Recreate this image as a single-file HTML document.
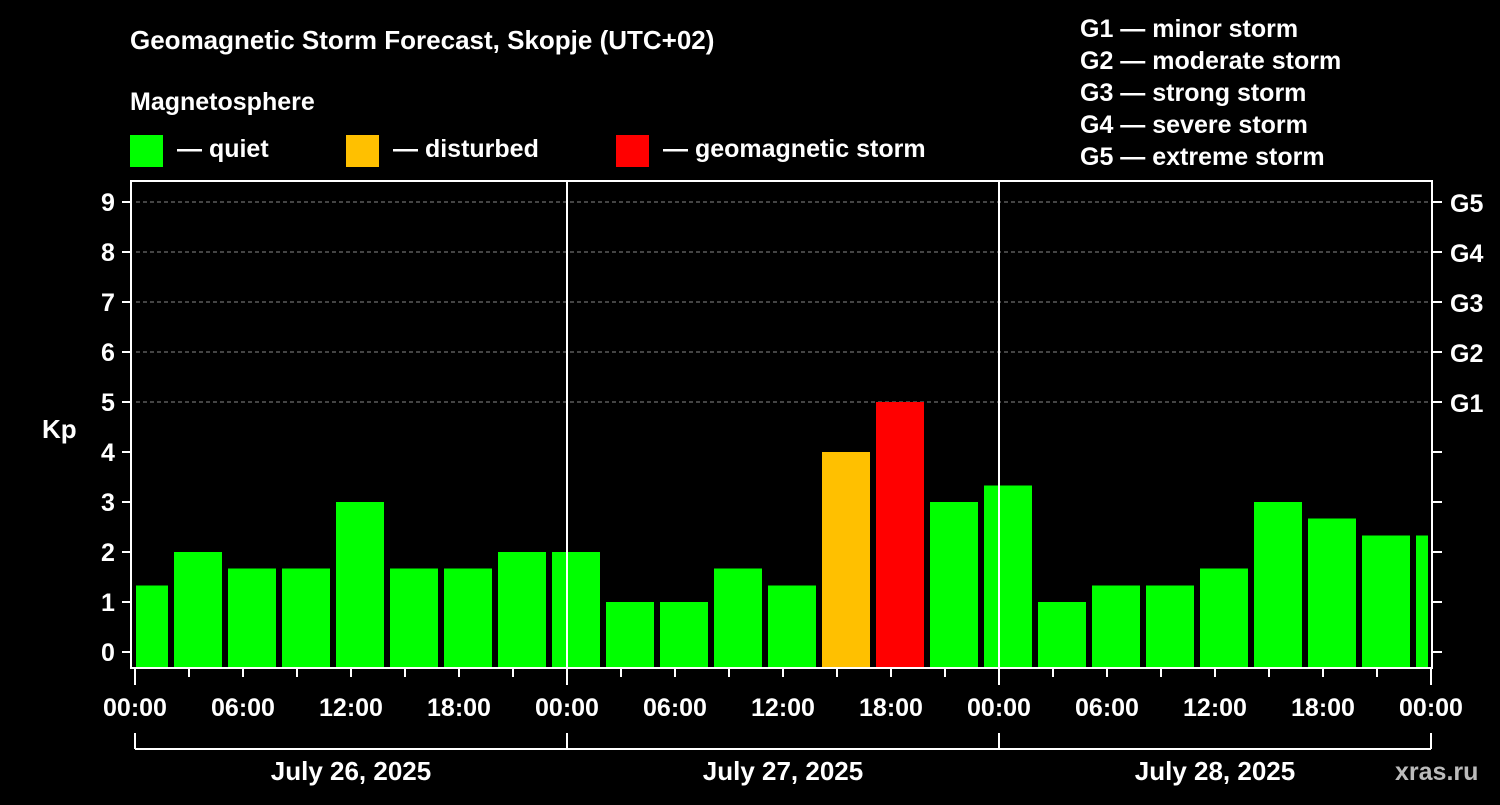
<!DOCTYPE html>
<html><head><meta charset="utf-8"><style>
body{margin:0;background:#000;}
svg text{font-family:"Liberation Sans",Arial,sans-serif;font-weight:bold;fill:#fff;}
</style></head><body>
<svg width="1500" height="800" xmlns="http://www.w3.org/2000/svg">
<rect width="1500" height="800" fill="#000"/>
<text x="130" y="49" font-size="26">Geomagnetic Storm Forecast, Skopje (UTC+02)</text>
<text x="130" y="110" font-size="25">Magnetosphere</text>
<g><rect x="130" y="135" width="33" height="32" fill="#00ff00"/><text x="177" y="157" font-size="25">— quiet</text></g>
<g><rect x="346" y="135" width="33" height="32" fill="#ffc000"/><text x="393" y="157" font-size="25">— disturbed</text></g>
<g><rect x="616" y="135" width="33" height="32" fill="#ff0000"/><text x="663" y="157" font-size="25">— geomagnetic storm</text></g>
<g font-size="25">
<text x="1080" y="37">G1 — minor storm</text>
<text x="1080" y="69">G2 — moderate storm</text>
<text x="1080" y="101">G3 — strong storm</text>
<text x="1080" y="133">G4 — severe storm</text>
<text x="1080" y="165">G5 — extreme storm</text>
</g>
<text x="42" y="438" font-size="26">Kp</text>
<text x="1395" y="780" font-size="25" fill="#ccc" style="fill:#bbb">xras.ru</text>
<defs><clipPath id="pc"><rect x="136" y="182" width="1292" height="486"/></clipPath></defs>
<g id="grid"></g>
<g id="bars" clip-path="url(#pc)"></g>
<g id="axes"></g>
</svg>
<script>
const kpValues=[1.33,2,1.67,1.67,3,1.67,1.67,2,2,1,1,1.67,1.33,4,5,3,3.33,1,1.33,1.33,1.67,3,2.67,2.33,2.33];
const yTicks=[0,1,2,3,4,5,6,7,8,9];
const gLabels=["G1","G2","G3","G4","G5"];
const xTickLabels=["00:00","06:00","12:00","18:00","00:00","06:00","12:00","18:00","00:00","06:00","12:00","18:00","00:00"];
const dayLabels=["July 26, 2025","July 27, 2025","July 28, 2025"];
const NS="http://www.w3.org/2000/svg";
const X0=135,PX_H=18,Y0=652,PX_KP=50,BOT=668,TOP=181;
const xs=h=>X0+h*PX_H, ys=k=>Y0-k*PX_KP;
function mk(tag,attrs,parent){const e=document.createElementNS(NS,tag);for(const k in attrs)e.setAttribute(k,attrs[k]);parent.appendChild(e);return e;}
const grid=document.getElementById('grid'),bars=document.getElementById('bars'),axes=document.getElementById('axes');
[5,6,7,8,9].forEach(k=>{const l=mk('line',{x1:136,x2:1430,y1:ys(k),y2:ys(k),stroke:'#888','stroke-dasharray':'4,3','stroke-width':1},grid);

});
kpValues.forEach((v,i)=>{const c=xs(0.5+3*i);const col=v>=5?'#ff0000':(v>=4?'#ffc000':'#00ff00');
const r=mk('rect',{x:c-24,y:ys(v),width:48,height:BOT-ys(v),fill:col},bars);

});
[1,2].forEach(d=>{const l=mk('line',{x1:xs(24*d),x2:xs(24*d),y1:TOP,y2:BOT,stroke:'#fff','stroke-width':2},axes);

});
const fr=mk('rect',{x:131,y:TOP,width:1301,height:BOT-TOP,fill:'none',stroke:'#fff','stroke-width':2},axes);


yTicks.forEach(k=>{mk('line',{x1:122,x2:131,y1:ys(k),y2:ys(k),stroke:'#fff','stroke-width':2},axes);
mk('line',{x1:1432,x2:1442,y1:ys(k),y2:ys(k),stroke:'#fff','stroke-width':2},axes);
const t=mk('text',{x:108,y:ys(k)+9,'font-size':25,'text-anchor':'middle'},axes);t.textContent=k;

});
gLabels.forEach((g,i)=>{const t=mk('text',{x:1450,y:ys(5+i)+10,'font-size':25},axes);t.textContent=g;

});
for(let h=0;h<=72;h+=3){const major=h%24===0;mk('line',{x1:xs(h),x2:xs(h),y1:BOT+1,y2:BOT+(major?17:9),stroke:'#fff','stroke-width':2},axes);}
xTickLabels.forEach((s,i)=>{const t=mk('text',{x:xs(6*i),y:716,'font-size':25,'text-anchor':'middle'},axes);t.textContent=s;

});
mk('line',{x1:xs(0),x2:xs(72),y1:749,y2:749,stroke:'#fff','stroke-width':2},axes);
for(let d=0;d<=3;d++)mk('line',{x1:xs(24*d),x2:xs(24*d),y1:733,y2:749,stroke:'#fff','stroke-width':2},axes);
dayLabels.forEach((s,i)=>{const t=mk('text',{x:xs(24*i+12),y:780,'font-size':26,'text-anchor':'middle'},axes);t.textContent=s;

});
</script>
</body></html>
